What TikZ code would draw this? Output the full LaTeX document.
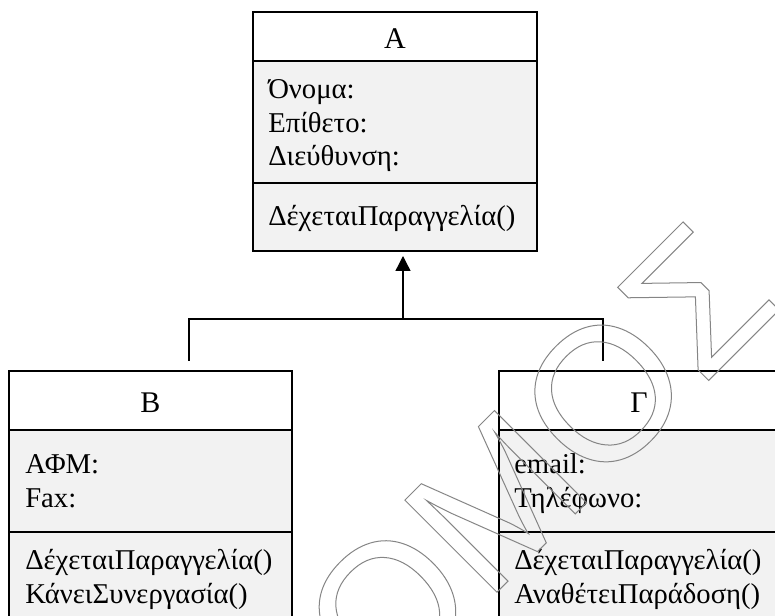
\documentclass[tikz,border=0pt]{standalone}
\usepackage{fontspec}
\setmainfont{Liberation Serif}
\newfontfamily\wmfont{Liberation Sans}
\usetikzlibrary{arrows.meta}
\definecolor{compfill}{HTML}{F2F2F2}
\definecolor{wmgray}{HTML}{858585}
\begin{document}
\begin{tikzpicture}[x=0.75pt,y=-0.75pt,
  box/.style={draw=black, line width=1.5pt, anchor=north west, inner sep=0pt, outer sep=0pt, rectangle},
  hdr/.style={box, fill=white},
  comp/.style={box, fill=compfill},
  classtitle/.style={anchor=base, inner sep=0pt, font=\fontsize{22.5}{27}\selectfont},
  item/.style={anchor=base west, inner sep=0pt, font=\fontsize{21.5}{26}\selectfont},
  conn/.style={line width=1pt, draw=black},
  wmark/.style={rotate=45, inner sep=0pt, text=wmgray, font=\wmfont\fontsize{142}{142}\selectfont}
]
\path[use as bounding box] (0,0) rectangle (775,616);
\clip (0,0) rectangle (775,616);

% Class A
\node[hdr,  minimum width=213pt, minimum height=36.75pt] (Ah) at (253,12) {};
\node[comp, minimum width=213pt, minimum height=91.5pt]  (Aa) at (253,61) {};
\node[comp, minimum width=213pt, minimum height=51pt]    (Am) at (253,183) {};
\node[classtitle] (At) at (395,48.5) {A};
\node[item] (A1) at (268,99) {Όνομα:};
\node[item] (A2) at (268,132.4) {Επίθετο:};
\node[item] (A3) at (268,165.5) {Διεύθυνση:};
\node[item] (A4) at (268,226) {ΔέχεταιΠαραγγελία()};

% Class B
\node[hdr,  minimum width=212.25pt, minimum height=44.25pt] (Bh) at (9,371) {};
\node[comp, minimum width=212.25pt, minimum height=76.5pt]  (Ba) at (9,430) {};
\node[comp, minimum width=212.25pt, minimum height=90pt]    (Bm) at (9,532) {};
\node[classtitle] (Bt) at (150.5,412.6) {B};
\node[item] (B1) at (25,473.5) {ΑΦΜ:};
\node[item] (B2) at (25,508) {Fax:};
\node[item] (B3) at (25,569.7) {ΔέχεταιΠαραγγελία()};
\node[item] (B4) at (25,603) {ΚάνειΣυνεργασία()};

% Class Gamma
\node[hdr,  minimum width=213pt, minimum height=44.25pt] (Gh) at (499,371) {};
\node[comp, minimum width=213pt, minimum height=76.5pt]  (Ga) at (499,430) {};
\node[comp, minimum width=213pt, minimum height=90pt]    (Gm) at (499,532) {};
\node[classtitle] (Gt) at (639,412.6) {Γ};
\node[item] (G1) at (514,473.5) {email:};
\node[item] (G2) at (514,508) {Τηλέφωνο:};
\node[item] (G3) at (514,569.7) {ΔέχεταιΠαραγγελία()};
\node[item] (G4) at (514,603) {ΑναθέτειΠαράδοση()};

% Generalisation connector
\coordinate (j) at (403,319);
\coordinate (bstub) at (189,361);
\coordinate (gstub) at (603,361);
\draw[conn] (bstub) -- (bstub |- j) -- (gstub |- j) -- (gstub);
\draw[conn, -{Triangle[length=11.25pt, width=11.25pt]}, shorten >=3.75pt] (j) -- (j |- Am.south);

% Watermark
\node[wmark] (wm) at (537,460) {\special{pdf:literal direct 1 Tr 0.75 w}ΟΜΟΣ\special{pdf:literal direct 0 Tr}};
\end{tikzpicture}
\end{document}
